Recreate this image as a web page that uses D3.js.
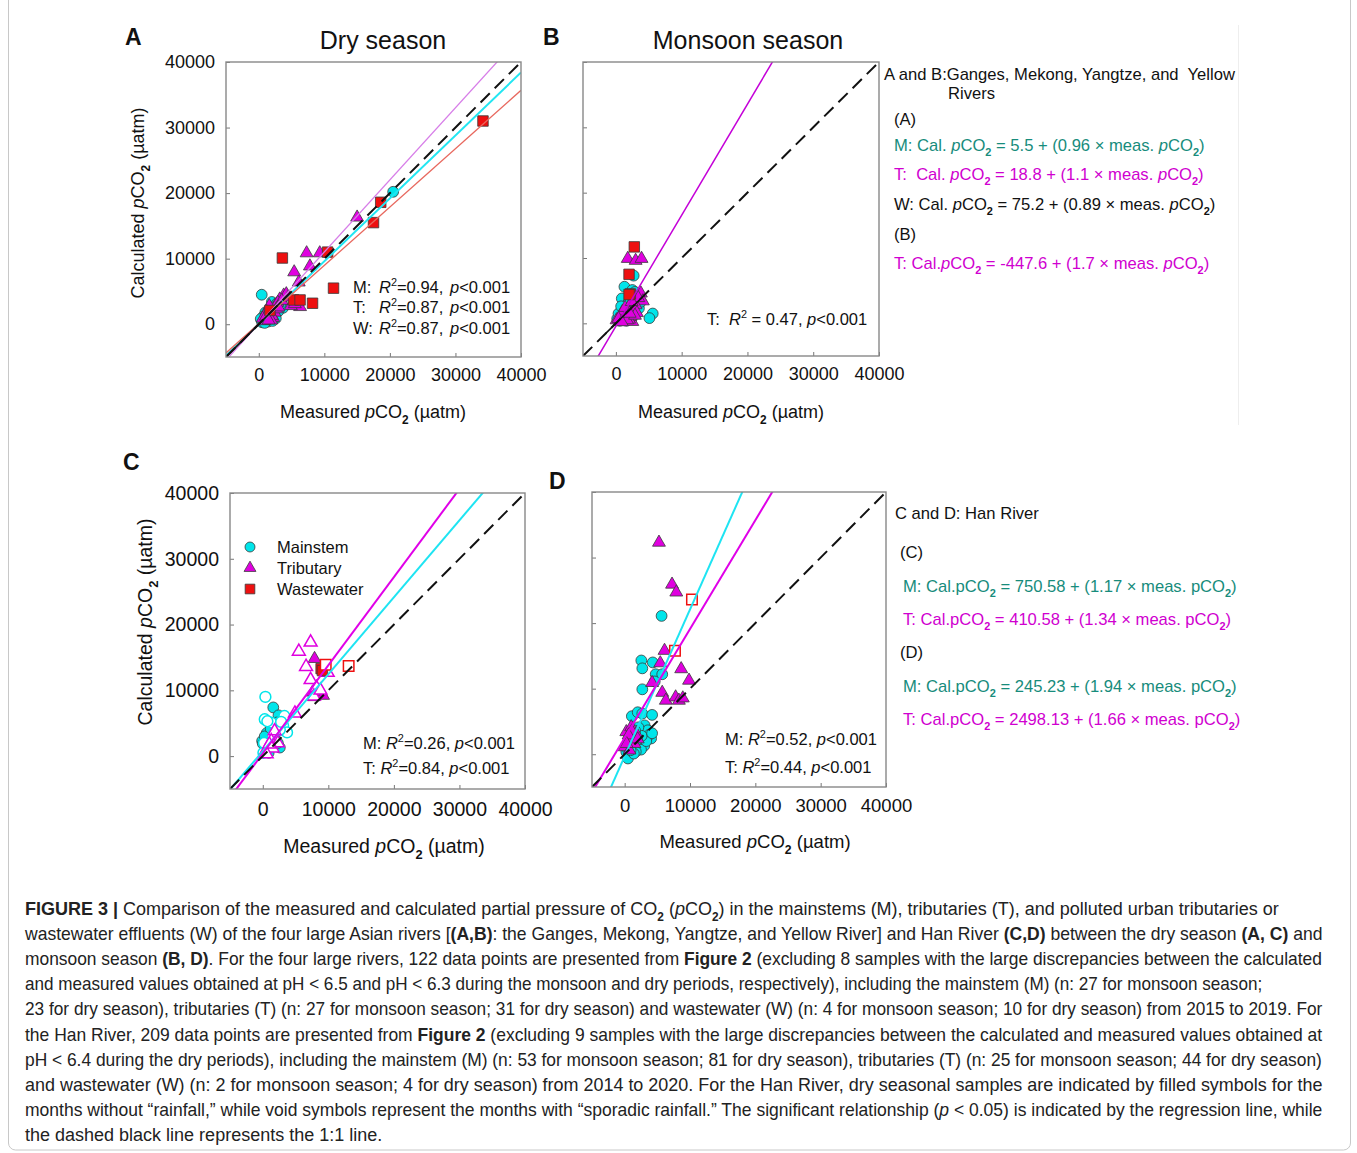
<!DOCTYPE html>
<html>
<head>
<meta charset="utf-8">
<script src="https://cdn.jsdelivr.net/npm/d3@7"></script>
<style>
  body { margin: 0; background: #fff; }
  svg { display: block; font-family: "Liberation Sans", Arial, sans-serif; }
</style>
</head>
<body>
<div id="fig"></div>
<script>
// ---- values, in µatm ([measured, calculated]) ----
const axisDomain = [-5000, 40000];
const tickValues = [0, 10000, 20000, 30000, 40000];

// A: four large rivers, dry season
const aMain = [[20500,20200],[450,4500],[2000,3400],[3700,2500],[2500,1500],[1200,1000],[800,600],[1600,700],
  [500,300],[2200,1200],[1000,1800],[3000,2000],[1800,2600],[700,1200],[2800,3200],[1400,400],[300,800],
  [2600,900],[1900,1900],[900,200],[3300,3000],[2100,500],[1100,1400]];
const aTrib = [[15000,16300],[7300,10850],[9300,10850],[7800,8850],[5400,7950],[6100,6400],[3800,4400],
  [6300,2650],[4900,2800],[3200,3800],[4200,4600],[2500,2800],[1800,2200],[1400,1500],[2200,1000],[1000,800],
  [2900,3300],[1600,2800],[2400,1800],[800,500],[1200,1900],[3500,3600],[2000,1300],[600,900],[1900,600],
  [2700,2300],[3000,2600],[1100,1200],[1500,600],[5500,3100],[4500,4100]];
const aWaste = [[34200,31000],[18600,18600],[17500,15500],[10500,11000],[3600,10100],[11400,5500],
  [5300,3700],[6300,3700],[8200,3200],[1700,2100]];

// B: four large rivers, monsoon season
const bMain = [[2700,7300],[1300,5600],[2500,5100],[900,3800],[2800,3500],[2000,2500],[3000,1800],[5600,1500],
  [5100,800],[200,700],[1500,1700],[3300,2800],[2500,1000],[1000,1100],[1800,3000],[2200,4300],[3500,2300],
  [600,400],[1700,900],[2900,4800],[1200,2200],[400,1500],[2300,1600],[3800,3300],[1600,400],[2600,2000],[800,2600]];
const bTrib = [[1800,9900],[3000,9600],[3900,9900],[3800,4600],[4100,3400],[1900,1900],[700,900],[100,500],
  [2500,250],[1200,1400],[3000,2800],[2200,1000],[600,300],[1500,700],[2700,2200],[1000,1800],[3400,3900],
  [800,1200],[2000,600],[3200,1600],[1400,2400],[400,700],[2400,3300],[1700,500],[2900,1200],[900,200],[2100,1500]];
const bWaste = [[2800,11700],[2000,7500],[2200,4500],[2000,4400]];

// C: Han River, dry season (filled = no rainfall, open = sporadic rainfall)
const cMain = [[1600,7400],[2400,6200],[2100,5100],[600,3500],[-100,2300],[2600,1300],[1400,2500],[300,3000],
  [2100,4600],[1000,1600],[1800,3200],[500,1000],[2300,2000],[1200,4200],[0,1900],[900,500]];
const cMainOpen = [[400,9000],[300,5600],[3300,6100],[3100,4600],[3700,3600],[500,1300],[100,500],[1300,5100],
  [700,5300],[2600,4000],[200,2000],[1500,3000],[2800,5200]];
const cTrib = [[7900,14800],[7800,9000],[9200,9200],[7600,9700]];
const cTribOpen = [[7300,17300],[5500,15900],[6600,13600],[7300,11600],[8200,10400],[7800,9100],[9900,12700],
  [4900,6500],[1800,3800],[1300,2300],[800,1300],[300,500],[2300,2000],[1500,1200],[600,300],[1000,1800],[8800,10000]];
const cWaste = [[8900,13300],[9100,13000]];
const cWasteOpen = [[9600,13900],[13100,13700]];

// D: Han River, monsoon season
const dMain = [[5650,21100],[2550,14300],[2700,13100],[4300,14000],[4750,12200],[5750,12200],[4600,11100],
  [2700,9900],[1100,5800],[2000,6400],[2700,6200],[4200,6000],[3050,4400],[4050,2400],[3300,2900],[2300,3400],
  [2800,1900],[1800,1400],[750,-150],[250,350],[1300,850],[2300,2100],[3550,3650],[1000,1900],[500,-650],
  [1500,2600],[2000,1000],[600,1200],[1200,3000],[3000,1300],[2500,700],[1700,400],[800,2400],[3800,3000],
  [2100,4100],[400,900],[1400,100],[3300,2000],[2600,2800],[900,600],[1900,2200],[4200,3200],[1600,3600]];
const dTrib = [[5250,32300],[7250,25900],[7900,24700],[6100,15800],[5450,13900],[8650,13000],[9850,11250],
  [4200,10900],[5750,9400],[6300,8200],[7800,8700],[8300,8200],[8900,8550],[250,3400],[1000,4150],[1300,2600],
  [500,2100],[1800,3100],[0,1100],[750,600],[1500,1600],[1100,3500],[600,2900],[2000,2300],[300,1600]];
const dWasteOpen = [[10300,23600],[7700,15800]];

// regression lines: [group, slope, intercept]
const aFits = [["M", 0.96, 5.5], ["T", 1.1, 18.8], ["W", 0.89, 75.2]];
const bFits = [["T", 1.7, -447.6]];
const cFits = [["M", 1.17, 750.58], ["T", 1.34, 410.58]];
const dFits = [["M", 2.24, -320], ["T", 1.66, 2498.13]];

// short solid stretch of the 1:1 line near the origin (A, B)
const aSolid = [-5000, 3500];
const bSolid = [-1500, 4000];

// ---- styles ----
const fillCol = { M: "#00e5ea", T: "#e000e0", W: "#ee1010" };
const symType = { M: d3.symbolCircle, T: d3.symbolTriangle, W: d3.symbolSquare };
const symSize = { M: 92, T: 72, W: 110 };
const teal = "#178c7c", mag = "#d000d0";

const W = 1357, H = 1153;
const svg = d3.select("#fig").append("svg").attr("width", W).attr("height", H);
svg.append("rect").attr("width", W).attr("height", H).attr("fill", "#fff");
svg.append("rect").attr("x", 8.5).attr("y", -10).attr("width", 1342).attr("height", 1160)
  .attr("rx", 7).attr("fill", "none").attr("stroke", "#c8c8c8");
svg.append("line").attr("x1", 1238.5).attr("x2", 1238.5).attr("y1", 25).attr("y2", 425)
  .attr("stroke", "#eeeeee");

// text with italic / bold / sub / sup parts
function rich(sel, parts, size) {
  let shift = 0;
  parts.forEach(p => {
    const [s, st] = typeof p === "string" ? [p, ""] : p;
    const t = sel.append("tspan").text(s);
    let target = 0;
    if (st === "sub") { target = size * 0.32; t.attr("font-size", size * 0.66); }
    if (st === "sup") { target = -size * 0.4; t.attr("font-size", size * 0.66); }
    if (target !== shift) { t.attr("dy", target - shift); shift = target; }
    if (st.includes("i")) t.attr("font-style", "italic");
    if (st.includes("b")) t.attr("font-weight", "bold");
  });
}
function label(x, y, parts, size, opts = {}) {
  const t = svg.append("text").attr("x", x).attr("y", y).attr("font-size", size)
    .attr("fill", opts.fill || "#111").attr("text-anchor", opts.anchor || "start")
    .attr("xml:space", "preserve").style("white-space", "pre");
  if (opts.weight) t.attr("font-weight", opts.weight);
  if (opts.transform) t.attr("transform", opts.transform).attr("x", 0).attr("y", 0);
  rich(t, parts, size);
  return t;
}

const pco2 = [["p", "i"], "CO", ["2", "sub"]];

function panel(cfg) {
  const x = d3.scaleLinear().domain(axisDomain).range([cfg.left, cfg.left + cfg.w]);
  const y = d3.scaleLinear().domain(axisDomain).range([cfg.top + cfg.h, cfg.top]);
  const g = svg.append("g");
  const clipId = "clip" + cfg.id;
  g.append("clipPath").attr("id", clipId).append("rect")
    .attr("x", cfg.left).attr("y", cfg.top).attr("width", cfg.w).attr("height", cfg.h);

  // axes (inward ticks)
  const xa = g.append("g").attr("transform", `translate(0,${cfg.top + cfg.h})`)
    .call(d3.axisBottom(x).tickValues(tickValues).tickSizeInner(-4).tickSizeOuter(0)
      .tickPadding(cfg.xPad).tickFormat(d3.format("d")));
  const ya = g.append("g").attr("transform", `translate(${cfg.left},0)`)
    .call(d3.axisLeft(y).tickValues(tickValues).tickSizeInner(-4).tickSizeOuter(0)
      .tickPadding(11).tickFormat(cfg.yLabels ? d3.format("d") : ""));
  [xa, ya].forEach(a => {
    a.select(".domain").remove();
    a.selectAll("line").attr("stroke", "#777");
    a.selectAll("text").attr("font-size", cfg.tickSize).attr("fill", "#111")
      .attr("font-family", "Liberation Sans, Arial, sans-serif");
  });

  // points
  const pts = g.append("g");
  cfg.series.forEach(s => {
    pts.selectAll(null).data(s.pts).enter().append("path")
      .attr("transform", d => `translate(${x(d[0])},${y(d[1])})`)
      .attr("d", d3.symbol().type(symType[s.k]).size(symSize[s.k]))
      .attr("fill", s.open ? "#fff" : fillCol[s.k])
      .attr("stroke", s.open ? fillCol[s.k] : "#3a3a3a")
      .attr("stroke-width", s.open ? 1.5 : 0.8);
  });

  // lines
  const lines = g.append("g").attr("clip-path", `url(#${clipId})`);
  lines.selectAll(null).data(cfg.fits).enter().append("line")
    .attr("x1", x(axisDomain[0])).attr("x2", x(axisDomain[1]))
    .attr("y1", d => y(d[2] + d[1] * axisDomain[0]))
    .attr("y2", d => y(d[2] + d[1] * axisDomain[1]))
    .attr("stroke", d => cfg.lineCol[d[0]]).attr("stroke-width", d => cfg.lineW[d[0]]);
  lines.append("line")
    .attr("x1", x(axisDomain[0])).attr("y1", y(axisDomain[0]))
    .attr("x2", x(axisDomain[1])).attr("y2", y(axisDomain[1]))
    .attr("stroke", "#111").attr("stroke-width", 2).attr("stroke-dasharray", "13,7");
  if (cfg.solid) {
    lines.append("line")
      .attr("x1", x(cfg.solid[0])).attr("y1", y(cfg.solid[0]))
      .attr("x2", x(cfg.solid[1])).attr("y2", y(cfg.solid[1]))
      .attr("stroke", "#111").attr("stroke-width", 1.6);
  }

  // frame
  g.append("rect").attr("x", cfg.left).attr("y", cfg.top).attr("width", cfg.w).attr("height", cfg.h)
    .attr("fill", "none").attr("stroke", "#888").attr("stroke-width", 1.4);
  return { x, y };
}

// ---- panels ----
panel({ id: "A", left: 226, top: 62, w: 295, h: 295, xPad: 11, tickSize: 18, yLabels: true,
  series: [{ k: "M", pts: aMain }, { k: "T", pts: aTrib }, { k: "W", pts: aWaste }],
  fits: aFits, solid: aSolid,
  lineCol: { M: "#22e6f2", T: "#d77ee8", W: "#e8685e" }, lineW: { M: 2, T: 1.3, W: 1.3 } });

panel({ id: "B", left: 583, top: 62, w: 296, h: 294, xPad: 11, tickSize: 18, yLabels: false,
  series: [{ k: "M", pts: bMain }, { k: "T", pts: bTrib }, { k: "W", pts: bWaste }],
  fits: bFits, solid: bSolid,
  lineCol: { T: "#c400d8" }, lineW: { T: 1.5 } });

panel({ id: "C", left: 230, top: 493, w: 295, h: 296, xPad: 13, tickSize: 19.5, yLabels: true,
  series: [{ k: "M", pts: cMain }, { k: "M", pts: cMainOpen, open: true },
           { k: "T", pts: cTrib }, { k: "T", pts: cTribOpen, open: true },
           { k: "W", pts: cWaste }, { k: "W", pts: cWasteOpen, open: true }],
  fits: cFits,
  lineCol: { M: "#1ee4f2", T: "#e000e8" }, lineW: { M: 2, T: 2 } });

panel({ id: "D", left: 592, top: 492, w: 294, h: 295, xPad: 12, tickSize: 18.5, yLabels: false,
  series: [{ k: "M", pts: dMain }, { k: "T", pts: dTrib }, { k: "W", pts: dWasteOpen, open: true }],
  fits: dFits,
  lineCol: { M: "#1ee4f2", T: "#e000e8" }, lineW: { M: 2, T: 2 } });

// ---- panel letters, titles, axis titles ----
label(125, 45, ["A"], 23, { weight: "bold" });
label(543, 45, ["B"], 23, { weight: "bold" });
label(123, 470, ["C"], 23, { weight: "bold" });
label(549, 489, ["D"], 23, { weight: "bold" });
label(383, 49, ["Dry season"], 25, { anchor: "middle" });
label(748, 49, ["Monsoon season"], 25, { anchor: "middle" });

const xTitle = ["Measured ", ...pco2, " (µatm)"];
const yTitle = ["Calculated ", ...pco2, " (µatm)"];
label(373, 418, xTitle, 18, { anchor: "middle" });
label(731, 418, xTitle, 18, { anchor: "middle" });
label(384, 853, xTitle, 19.5, { anchor: "middle" });
label(755, 848, xTitle, 18.5, { anchor: "middle" });
label(0, 0, yTitle, 18, { anchor: "middle", transform: "translate(144,203) rotate(-90)" });
label(0, 0, yTitle, 19.5, { anchor: "middle", transform: "translate(152,622) rotate(-90)" });

// ---- statistics inside panels ----
const r2 = [["R", "i"], ["2", "sup"]];
function stat(x0, xR, xP, yb, pre, val, size) {
  label(x0, yb, [pre], size);
  label(xR, yb, [...r2, val], size);
  label(xP, yb, [["p", "i"], "<0.001"], size);
}
stat(353, 379, 450, 293, "M:", "=0.94,", 16.5);
stat(353, 379, 450, 313, "T:", "=0.87,", 16.5);
stat(353, 379, 450, 334, "W:", "=0.87,", 16.5);
label(707, 325, ["T:  ", ...r2, " = 0.47, ", ["p", "i"], "<0.001"], 16.5);
label(363, 749, ["M: ", ...r2, "=0.26, ", ["p", "i"], "<0.001"], 16.5);
label(363, 774, ["T: ", ...r2, "=0.84, ", ["p", "i"], "<0.001"], 16.5);
label(725, 745, ["M: ", ...r2, "=0.52, ", ["p", "i"], "<0.001"], 16.5);
label(725, 773, ["T: ", ...r2, "=0.44, ", ["p", "i"], "<0.001"], 16.5);

// ---- legend in C ----
const legendItems = [["M", "Mainstem"], ["T", "Tributary"], ["W", "Wastewater"]];
legendItems.forEach(([k, name], i) => {
  svg.append("path").attr("transform", `translate(250,${547 + i * 21})`)
    .attr("d", d3.symbol().type(symType[k]).size(symSize[k] * 0.85))
    .attr("fill", fillCol[k]).attr("stroke", "#3a3a3a").attr("stroke-width", 0.8);
  label(277, 553 + i * 21, [name], 16.5);
});

// ---- regression equations on the right ----
const pI = [["p", "i"], "CO", ["2", "sub"]];
const pU = ["pCO", ["2", "sub"]];
const notes = [
  [884, 80, "#111", ["A and B:Ganges, Mekong, Yangtze, and  Yellow"]],
  [948, 99, "#111", ["Rivers"]],
  [894, 125, "#111", ["(A)"]],
  [894, 151, teal, ["M: Cal. ", ...pI, " = 5.5 + (0.96 × meas. ", ...pI, ")"]],
  [894, 180, mag, ["T:  Cal. ", ...pI, " = 18.8 + (1.1 × meas. ", ...pI, ")"]],
  [894, 210, "#111", ["W: Cal. ", ...pI, " = 75.2 + (0.89 × meas. ", ...pI, ")"]],
  [894, 240, "#111", ["(B)"]],
  [894, 269, mag, ["T: Cal.", ...pI, " = -447.6 + (1.7 × meas. ", ...pI, ")"]],
  [895, 519, "#111", ["C and D: Han River"]],
  [900, 558, "#111", ["(C)"]],
  [903, 592, teal, ["M: Cal.", ...pU, " = 750.58 + (1.17 × meas. ", ...pU, ")"]],
  [903, 625, mag, ["T: Cal.", ...pU, " = 410.58 + (1.34 × meas. ", ...pU, ")"]],
  [900, 658, "#111", ["(D)"]],
  [903, 692, teal, ["M: Cal.", ...pU, " = 245.23 + (1.94 × meas. ", ...pU, ")"]],
  [903, 725, mag, ["T: Cal.", ...pU, " = 2498.13 + (1.66 × meas. ", ...pU, ")"]]
];
notes.forEach(([x, y, c, parts]) => label(x, y, parts, 16.6, { fill: c }));

// ---- caption (each line squeezed horizontally to its width in the figure) ----
const captionLines = [
  [1255, [["FIGURE 3 | ", "b"], "Comparison of the measured and calculated partial pressure of CO", ["2", "sub"], " (", ["p", "i"], "CO", ["2", "sub"], ") in the mainstems (M), tributaries (T), and polluted urban tributaries or"]],
  [1298, ["wastewater effluents (W) of the four large Asian rivers [", ["(A,B)", "b"], ": the Ganges, Mekong, Yangtze, and Yellow River] and Han River ", ["(C,D)", "b"], " between the dry season ", ["(A, C)", "b"], " and"]],
  [1298, ["monsoon season ", ["(B, D)", "b"], ". For the four large rivers, 122 data points are presented from ", ["Figure 2", "b"], " (excluding 8 samples with the large discrepancies between the calculated"]],
  [1238, ["and measured values obtained at pH < 6.5 and pH < 6.3 during the monsoon and dry periods, respectively), including the mainstem (M) (n: 27 for monsoon season;"]],
  [1298, ["23 for dry season), tributaries (T) (n: 27 for monsoon season; 31 for dry season) and wastewater (W) (n: 4 for monsoon season; 10 for dry season) from 2015 to 2019. For"]],
  [1298, ["the Han River, 209 data points are presented from ", ["Figure 2", "b"], " (excluding 9 samples with the large discrepancies between the calculated and measured values obtained at"]],
  [1298, ["pH < 6.4 during the dry periods), including the mainstem (M) (n: 53 for monsoon season; 81 for dry season), tributaries (T) (n: 25 for monsoon season; 44 for dry season)"]],
  [1298, ["and wastewater (W) (n: 2 for monsoon season; 4 for dry season) from 2014 to 2020. For the Han River, dry seasonal samples are indicated by filled symbols for the"]],
  [1298, ["months without “rainfall,” while void symbols represent the months with “sporadic rainfall.” The significant relationship (", ["p", "i"], " < 0.05) is indicated by the regression line, while"]],
  [360, ["the dashed black line represents the 1:1 line."]]
];
captionLines.forEach(([len, parts], i) => {
  const t = label(0, 0, parts, 18, { fill: "#222" });
  const natural = t.node().getComputedTextLength();
  const sx = Math.min(1, len / natural);
  t.attr("transform", `translate(25,${915 + i * 25.1}) scale(${sx},1)`);
});
</script>
</body>
</html>
